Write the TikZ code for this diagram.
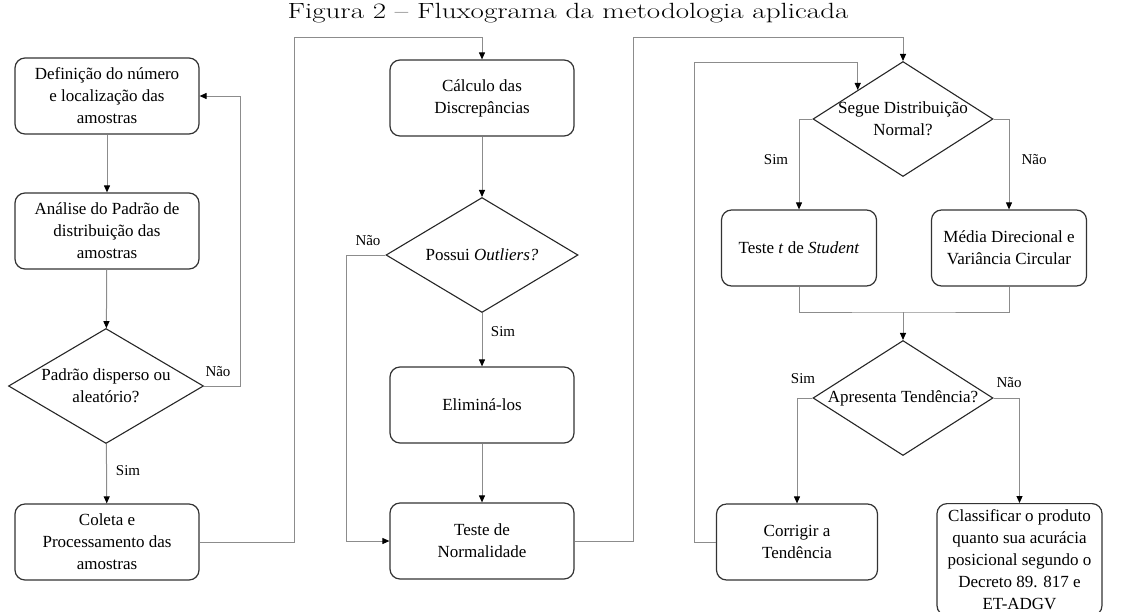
\documentclass[tikz,border=0pt]{standalone}
\usepackage{fontspec}
\newfontfamily\tnr{Liberation Serif}
\usetikzlibrary{shapes.geometric,arrows.meta,calc}
\begin{document}
\begin{tikzpicture}
[x=1pt,y=-1pt,
box/.style={draw=black!80,line width=1.2pt,rounded corners=10pt,minimum width=184pt,minimum height=76pt,align=center,font=\tnr\fontsize{17}{22}\selectfont},
dec/.style={draw=black!85,line width=1.1pt,shape=diamond,aspect=1.65,inner sep=-4pt,minimum width=190pt,minimum height=115pt,align=center,font=\tnr\fontsize{17}{22}\selectfont},
lbl/.style={font=\tnr\fontsize{15}{17}\selectfont},
con/.style={draw=black!45,line width=1pt},
arr/.style={con,-{Triangle[length=7pt,width=6pt,black]}}]
\useasboundingbox (0,0) rectangle (1135,611);
\node[font=\fontsize{22}{26}\selectfont,xscale=1.32,transform shape] (title) at (568,13) {Figura 2 -- Fluxograma da metodologia aplicada};
\node[box] (amostras) at (107,96) {Definição do número\\ e localização das\\ amostras};
\node[box] (padrao) at (107,231) {Análise do Padrão de\\ distribuição das\\ amostras};
\node[dec,minimum width=195pt] (disperso) at (106,386) {Padrão disperso ou\\ aleatório?};
\node[box] (coleta) at (107,542) {Coleta e\\ Processamento das\\ amostras};
\node[box] (calculo) at (482,98) {Cálculo das\\ Discrepâncias};
\node[dec,minimum width=192pt] (outliers) at (482,255) {Possui \textit{Outliers?}};
\node[box] (elimina) at (482,405) {Eliminá-los};
\node[box] (normalidade) at (482,541) {Teste de\\ Normalidade};
\node[dec,minimum width=180pt] (normal) at (903,119) {Segue Distribuição\\ Normal?};
\node[box,minimum width=155pt] (student) at (799,248) {Teste \textit{t} de \textit{Student}};
\node[box,minimum width=155pt] (media) at (1009,248) {Média Direcional e\\ Variância Circular};
\node[dec,minimum width=180pt] (tendencia) at (903,398) {Apresenta Tendência?};
\node[box,minimum width=161pt] (corrigir) at (797,542) {Corrigir a\\ Tendência};
\node[box,minimum width=165pt,minimum height=112pt,anchor=north] (classificar) at (1019.5,503) {Classificar o produto\\ quanto sua acurácia\\ posicional segundo o\\ Decreto 89. 817 e\\ ET-ADGV};
\node[lbl] (nao1) at (218,372) {Não};
\node[lbl] (sim1) at (128,471) {Sim};
\node[lbl] (nao2) at (368,241) {Não};
\node[lbl] (sim2) at (503,332) {Sim};
\node[lbl] (sim3) at (776,160) {Sim};
\node[lbl] (nao3) at (1034,160) {Não};
\node[lbl] (sim4) at (803,379) {Sim};
\node[lbl] (nao4) at (1009,383) {Não};
\coordinate (top1) at (294,37);
\coordinate (top2) at (633,37);
\coordinate (top3) at (694,62);
\coordinate (join) at (903,312);
\draw[arr] (amostras) -- (padrao);
\draw[arr] (padrao) -- (disperso);
\draw[arr] (disperso.east) -- ++(36,0) |- (amostras.east);
\draw[arr] (disperso) -- (coleta);
\draw[arr] (coleta.east) -| (top1) -| (calculo.north);
\draw[arr] (calculo) -- (outliers);
\draw[arr] (outliers) -- (elimina);
\draw[arr] (elimina) -- (normalidade);
\draw[arr] (outliers.west) -- ++(-39,0) |- (normalidade.west);
\draw[arr] (normalidade.east) -| (top2) -| (normal.north);
\draw[arr] (normal.west) -| (student.north);
\draw[arr] (normal.east) -| (media.north);
\draw[con] (student.south) |- (join) -| (media.south);
\draw[arr] (join) -- (tendencia.north);
\draw[arr] (tendencia.west) -| (corrigir.north);
\draw[arr] (tendencia.east) -| (classificar.north);
\draw[arr] (corrigir.west) -| (top3) -| ($(normal.west)!0.5!(normal.north)$);
\end{tikzpicture}
\end{document}
